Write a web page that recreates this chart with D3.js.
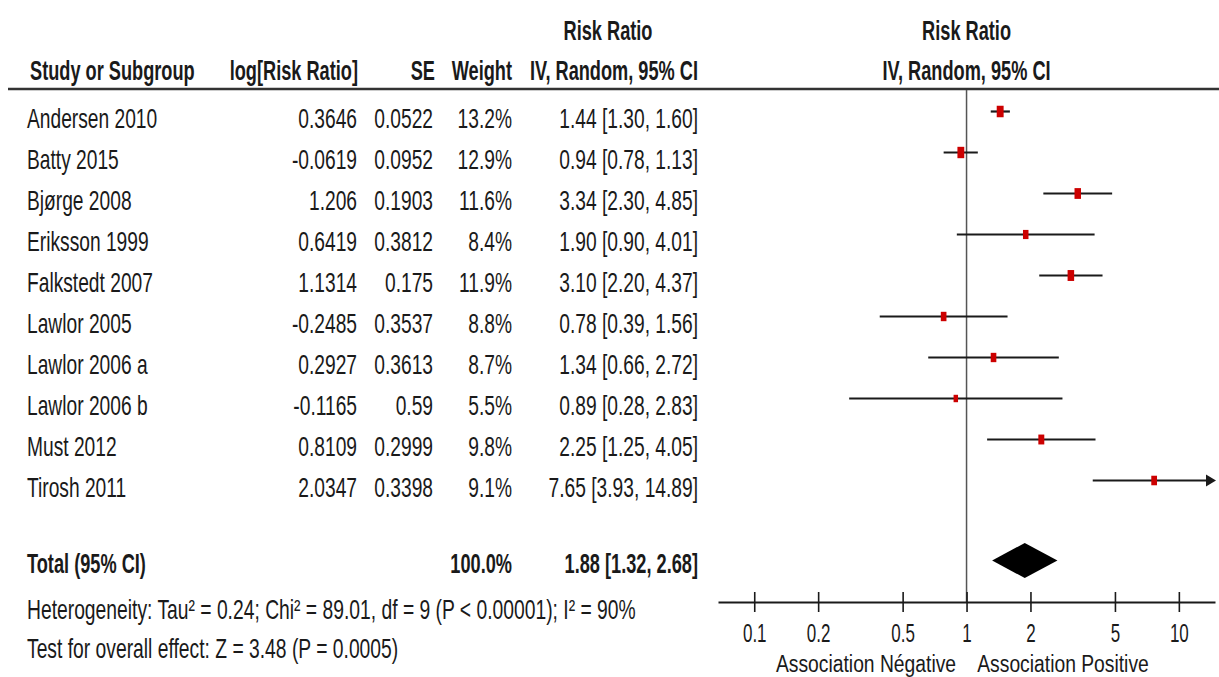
<!DOCTYPE html>
<html>
<head>
<meta charset="utf-8">
<script src="https://cdn.jsdelivr.net/npm/d3@7"></script>
<style>
  html, body { margin: 0; padding: 0; background: #fff; }
  svg { display: block; }
  text { font-family: "Liberation Sans", Arial, sans-serif; fill: #1a1a1a; }
</style>
</head>
<body>
<svg id="chart" width="1219" height="677"></svg>
<script>
// Study-level inputs (log risk ratio, SE, weights and the back-transformed RR with 95% CI)
const studies = ["Andersen 2010", "Batty 2015", "Bjørge 2008", "Eriksson 1999", "Falkstedt 2007",
                 "Lawlor 2005", "Lawlor 2006 a", "Lawlor 2006 b", "Must 2012", "Tirosh 2011"];
const logRR   = ["0.3646", "-0.0619", "1.206", "0.6419", "1.1314", "-0.2485", "0.2927", "-0.1165", "0.8109", "2.0347"];
const seVals  = ["0.0522", "0.0952", "0.1903", "0.3812", "0.175", "0.3537", "0.3613", "0.59", "0.2999", "0.3398"];
const weights = [13.2, 12.9, 11.6, 8.4, 11.9, 8.8, 8.7, 5.5, 9.8, 9.1];
const rr      = [1.44, 0.94, 3.34, 1.90, 3.10, 0.78, 1.34, 0.89, 2.25, 7.65];
const lower   = [1.30, 0.78, 2.30, 0.90, 2.20, 0.39, 0.66, 0.28, 1.25, 3.93];
const upper   = [1.60, 1.13, 4.85, 4.01, 4.37, 1.56, 2.72, 2.83, 4.05, 14.89];

// Pooled random-effects estimate
const totalWeight = 100.0;
const totalRR = 1.88, totalLower = 1.32, totalUpper = 2.68;

// Axis
const tickValues = [0.1, 0.2, 0.5, 1, 2, 5, 10];
const tickLabels = ["0.1", "0.2", "0.5", "1", "2", "5", "10"];
const favourLabels = ["Association Négative", "Association Positive"];

const heterogeneityText = "Heterogeneity: Tau² = 0.24; Chi² = 89.01, df = 9 (P < 0.00001); I² = 90%";
const overallText = "Test for overall effect: Z = 3.48 (P = 0.0005)";

const svg = d3.select("#chart");

const x = d3.scaleLog().domain([0.0675, 14.8]).range([718, 1215]);
const rowY = d3.scaleLinear().domain([0, 1]).range([111.5, 152.5]);   // marker centre per row
const baseOffset = 16;                                                  // text baseline below marker centre
const boxH = d3.scaleSqrt().domain([0, 13.2]).range([0, 11.5]);

// Condensed, tall lettering: regular font stretched vertically about its baseline
function label(g, str, px, py, opts = {}) {
  const fs = opts.size || 19.2;
  const sy = opts.sy || 1.45;
  return g.append("text")
    .attr("transform", `translate(${px},${py}) scale(1,${sy})`)
    .attr("text-anchor", opts.anchor || "start")
    .style("font-size", fs + "px")
    .style("font-weight", opts.bold ? "bold" : "normal")
    .text(str);
}

const table = svg.append("g");

// Column headers
const hdr = { bold: true, size: 18.2, sy: 1.55 };
label(table, "Risk Ratio", 608, 40, { ...hdr, anchor: "middle" });
label(table, "Study or Subgroup", 30, 80, hdr);
label(table, "log[Risk Ratio]", 358, 80, { ...hdr, anchor: "end" });
label(table, "SE", 435, 80, { ...hdr, anchor: "end" });
label(table, "Weight", 512, 80, { ...hdr, anchor: "end" });
label(table, "IV, Random, 95% CI", 698, 80, { ...hdr, anchor: "end" });
label(table, "Risk Ratio", x(1), 40, { ...hdr, anchor: "middle" });
label(table, "IV, Random, 95% CI", x(1), 80, { ...hdr, anchor: "middle" });

// Header rule
svg.append("line")
  .attr("x1", 8).attr("x2", 1219).attr("y1", 89).attr("y2", 89)
  .attr("stroke", "#333").attr("stroke-width", 2.6);

// Study rows
const fmt2 = d3.format(".2f");
studies.forEach((name, i) => {
  const by = rowY(i) + baseOffset;
  label(table, name, 27, by);
  label(table, logRR[i], 357, by, { anchor: "end" });
  label(table, seVals[i], 433, by, { anchor: "end" });
  label(table, weights[i].toFixed(1) + "%", 512, by, { anchor: "end" });
  label(table, `${fmt2(rr[i])} [${fmt2(lower[i])}, ${fmt2(upper[i])}]`, 698, by, { anchor: "end" });
});

// Total row
const totalY = 560.5;
label(table, "Total (95% CI)", 27, totalY + 12, { bold: true, size: 18.2, sy: 1.55 });
label(table, totalWeight.toFixed(1) + "%", 512, totalY + 12, { bold: true, size: 18.2, sy: 1.55, anchor: "end" });
label(table, `${fmt2(totalRR)} [${fmt2(totalLower)}, ${fmt2(totalUpper)}]`, 698, totalY + 12,
      { bold: true, size: 18.2, sy: 1.55, anchor: "end" });

label(table, heterogeneityText, 27, 619, { size: 19.3 });
label(table, overallText, 27, 658, { size: 19.3 });

// Forest plot
const plot = svg.append("g");
const axisY = 602;

// Line of no effect
plot.append("line")
  .attr("x1", x(1)).attr("x2", x(1)).attr("y1", 90).attr("y2", axisY)
  .attr("stroke", "#555").attr("stroke-width", 1.5);

const xMax = x.domain()[1];
studies.forEach((name, i) => {
  const cy = rowY(i);
  const clipped = upper[i] > xMax;
  const x2 = clipped ? x(xMax) - 8 : x(upper[i]);
  plot.append("line")
    .attr("x1", x(lower[i])).attr("x2", x2).attr("y1", cy).attr("y2", cy)
    .attr("stroke", "#1a1a1a").attr("stroke-width", 2.2);
  if (clipped) {
    const tip = x(xMax) + 1;
    plot.append("path")
      .attr("d", `M${tip},${cy} L${tip - 10},${cy - 6} L${tip - 10},${cy + 6} Z`)
      .attr("fill", "#1a1a1a");
  }
  const h = boxH(weights[i]);
  const w = h * 0.6;
  plot.append("rect")
    .attr("x", x(rr[i]) - w / 2).attr("y", cy - h / 2)
    .attr("width", w).attr("height", h)
    .attr("fill", "#cc0000");
});

// Pooled diamond
plot.append("path")
  .attr("d", `M${x(totalLower)},${totalY} L${x(totalRR)},${totalY - 17.5} L${x(totalUpper)},${totalY} L${x(totalRR)},${totalY + 17.5} Z`)
  .attr("fill", "#000");

// Log axis
const axis = d3.axisBottom(x).tickValues(tickValues).tickSizeInner(10).tickSizeOuter(0)
  .tickFormat((d, i) => tickLabels[i]);
const ax = plot.append("g").attr("transform", `translate(0,${axisY})`).call(axis);
ax.select(".domain").attr("stroke", "#1a1a1a").attr("stroke-width", 2);
ax.selectAll(".tick line").attr("y1", -10).attr("y2", 10).attr("stroke", "#1a1a1a").attr("stroke-width", 1.6);
ax.selectAll(".tick text")
  .attr("y", null).attr("dy", null)
  .attr("transform", "translate(0,40) scale(1,1.5)")
  .attr("fill", "#1a1a1a")
  .style("font-family", "\"Liberation Sans\", Arial, sans-serif")
  .style("font-size", "17px");

label(plot, favourLabels[0], 866, 672, { anchor: "middle", size: 19.3, sy: 1.22 });
label(plot, favourLabels[1], 1063, 672, { anchor: "middle", size: 19.3, sy: 1.22 });
</script>
</body>
</html>
